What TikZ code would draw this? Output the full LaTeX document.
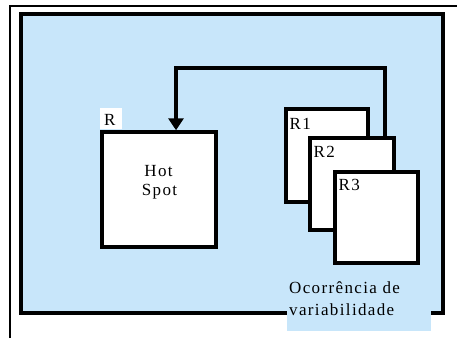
\documentclass[tikz,border=0pt]{standalone}
\usepackage{fontspec}
\setmainfont{Liberation Serif}
\usetikzlibrary{arrows.meta}
\definecolor{bgblue}{RGB}{200,230,250}
\begin{document}
\begin{tikzpicture}[x=1pt,y=-1pt,
  box/.style={draw=black, line width=3.5pt, fill=white, inner sep=0pt},
  txt/.style={font=\fontsize{17}{21}\selectfont\addfontfeatures{LetterSpace=8}, inner sep=0pt},
  conn/.style={draw=black, line width=3.5pt, -{Triangle[width=15pt,length=12pt]}}]
\useasboundingbox (0,0) rectangle (457,338);
\fill[white] (0,0) rectangle (457,338);
\draw[line width=1.5pt] (10,338) -- (10,6) -- (457,6);
\node[draw=black, fill=bgblue, line width=3.5pt, inner sep=0pt,
  minimum width=422pt, minimum height=299pt] (frame) at (232,163.5) {};
\node[fill=bgblue, inner sep=0pt, minimum width=144pt, minimum height=30pt] (occbg) at (359,316) {};
\node[txt, anchor=base west] (occ1) at (289,293) {Ocorrência de};
\node[txt, anchor=base west] (occ2) at (289,315) {variabilidade};
% Hot spot
\node[box, minimum width=114pt, minimum height=115pt] (hs) at (159,189.5) {};
\node[txt, anchor=base] (hot) at (158.5,176) {Hot};
\node[txt, anchor=base] (spot) at (159.5,195) {Spot};
\node[fill=white, inner sep=0pt, minimum width=22pt, minimum height=21pt] (rlbl) at (111,118.5) {};
\node[txt, anchor=base west] (r) at (104,125) {R};
% stacked boxes
\node[box, minimum width=82pt, minimum height=93pt] (r1) at (327,155.5) {};
\node[txt, anchor=base west] (r1t) at (289.5,129) {R1};
\node[box, minimum width=84pt, minimum height=92pt] (r2) at (352,184) {};
\node[txt, anchor=base west] (r2t) at (313.5,157) {R2};
\node[box, minimum width=83pt, minimum height=91pt] (r3) at (376.5,217.5) {};
\node[txt, anchor=base west] (r3t) at (338.5,190) {R3};
% connector
\coordinate (cr) at (385,68);
\coordinate (cl) at (176,68);
\draw[conn] (cr |- r2.north) -- (cr) -- (cl) -- (cl |- hs.north);
\end{tikzpicture}
\end{document}
